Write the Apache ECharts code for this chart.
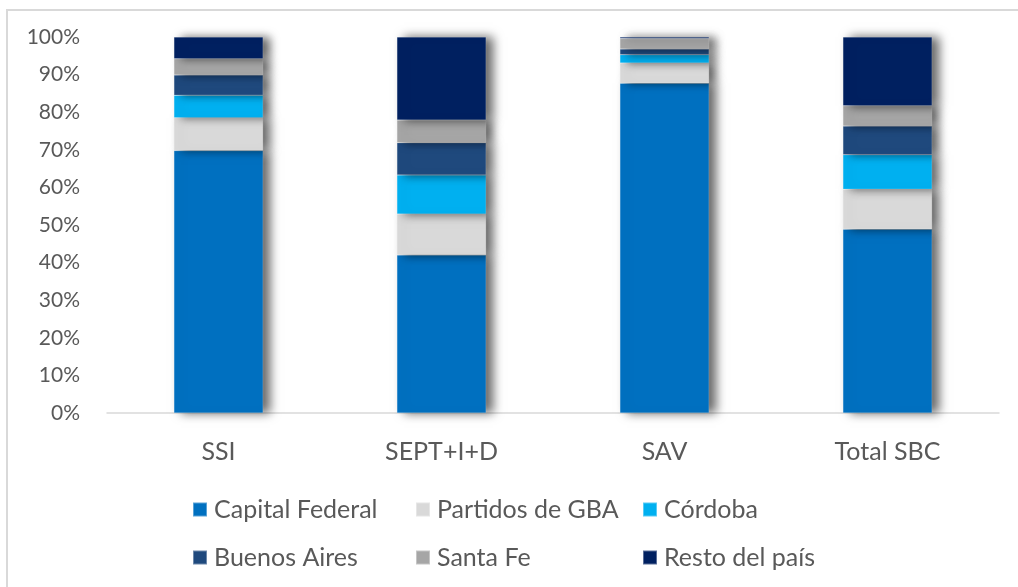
<!DOCTYPE html>
<html>
<head>
<meta charset="utf-8">
<script src="https://cdn.jsdelivr.net/npm/echarts@6/dist/echarts.min.js"></script>
<style>
  html, body { margin: 0; padding: 0; background: #fff; }
  #chart { width: 1018px; height: 587px; }
</style>
</head>
<body>
<div id="chart"></div>
<script>
// categorías y participación (%) por región
const categories = ['SSI', 'SEPT+I+D', 'SAV', 'Total SBC']
const capitalFederal = [69.8, 42.0, 87.7, 48.9]
const partidosGBA = [8.7, 10.9, 5.4, 10.6]
const cordoba = [6.0, 10.4, 2.2, 9.2]
const buenosAires = [5.4, 8.6, 1.5, 7.6]
const santaFe = [4.3, 6.0, 2.8, 5.4]
const restoPais = [5.8, 22.1, 0.4, 18.3]
const yTicks = [0, 10, 20, 30, 40, 50, 60, 70, 80, 90, 100]

const seriesDefs = [
    { name: 'Capital Federal', data: capitalFederal, color: '#0070C0' },
    { name: 'Partidos de GBA', data: partidosGBA, color: '#D9D9D9' },
    { name: 'Córdoba', data: cordoba, color: '#00B0F0' },
    { name: 'Buenos Aires', data: buenosAires, color: '#1F497D' },
    { name: 'Santa Fe', data: santaFe, color: '#A6A6A6' },
    { name: 'Resto del país', data: restoPais, color: '#002060' },
]

const font = 'Lato, "Open Sans", sans-serif'
const textColor = '#595959'

const myChart = echarts.init(document.getElementById('chart'))

// leyenda en dos filas de tres columnas
const legendCols = [192, 415, 642]
const legendRows = [497, 545]
const legends = seriesDefs.map((s, i) => ({
    left: legendCols[i % 3],
    top: legendRows[Math.floor(i / 3)],
    padding: 0,
    itemWidth: 14,
    itemHeight: 14,
    icon: 'rect',
    data: [s.name],
    textStyle: {
        color: textColor,
        fontSize: 25,
        fontFamily: font,
        padding: [0, 0, 0, 2],
    },
}))

const option = {
    backgroundColor: '#fff',
    animation: false,
    graphic: [
        {
            type: 'rect',
            shape: { x: 7, y: 10, width: 1100, height: 700 },
            style: { fill: 'none', stroke: '#D9D9D9', lineWidth: 2 },
            silent: true,
        },
    ],
    legend: legends,
    grid: {
        left: 107,
        right: 19,
        top: 37,
        bottom: 174,
        containLabel: false,
    },
    xAxis: {
        type: 'category',
        data: categories,
        axisLine: { lineStyle: { color: '#D9D9D9', width: 1.5 } },
        axisTick: { show: false },
        axisLabel: {
            color: textColor,
            fontSize: 25,
            fontFamily: font,
            margin: 26,
        },
    },
    yAxis: {
        type: 'value',
        min: yTicks[0],
        max: yTicks[yTicks.length - 1],
        interval: 10,
        splitLine: { show: false },
        axisLine: { show: false },
        axisTick: { show: false },
        axisLabel: {
            color: textColor,
            fontSize: 21,
            fontFamily: font,
            margin: 27,
            formatter: '{value}%',
        },
    },
    series: seriesDefs.map(s => ({
        name: s.name,
        type: 'bar',
        stack: 'total',
        barWidth: '40%',
        data: s.data,
        itemStyle: {
            color: s.color,
            borderColor: 'rgba(255,255,255,0.35)',
            borderWidth: 0.5,
            shadowColor: 'rgba(0,0,0,0.6)',
            shadowBlur: 10,
            shadowOffsetX: 7,
            shadowOffsetY: 0,
        },
        emphasis: { disabled: true },
    })),
}

option && myChart.setOption(option)
</script>
</body>
</html>
